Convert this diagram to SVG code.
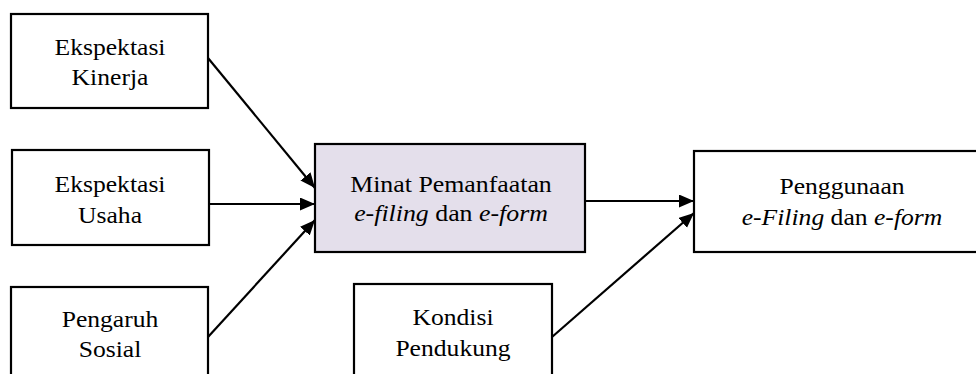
<svg xmlns="http://www.w3.org/2000/svg" width="976" height="374" viewBox="0 0 976 374">
<style>
.box{fill:#ffffff;stroke:#000000;stroke-width:2.2}
.hl{fill:#e4dfeb}
.c{fill:none;stroke:#000000;stroke-width:2.2}
</style>
<defs>
<marker id="ah" markerUnits="userSpaceOnUse" markerWidth="16" markerHeight="14" refX="15" refY="6.5" orient="auto">
<path d="M0,0 L15,6.5 L0,13 Z" fill="#000000"/>
</marker>
</defs>
<rect x="0" y="0" width="976" height="374" fill="#ffffff"/>
<g id="connectors">
<line class="c" x1="208" y1="58" x2="315" y2="188" marker-end="url(#ah)"/>
<line class="c" x1="209" y1="204" x2="315" y2="204" marker-end="url(#ah)"/>
<line class="c" x1="208" y1="337" x2="315" y2="220" marker-end="url(#ah)"/>
<line class="c" x1="585" y1="201" x2="694" y2="201" marker-end="url(#ah)"/>
<line class="c" x1="552" y1="337" x2="694" y2="213" marker-end="url(#ah)"/>
</g>
<g font-family="Liberation Serif, serif" font-size="23.5" fill="#000000" text-anchor="middle">
<g id="ekspektasi-kinerja">
<rect class="box" x="11" y="14" width="197" height="94"/>
<g transform="translate(110 0) scale(1.09 1)">
<text x="0" y="55">Ekspektasi</text>
<text x="0" y="85">Kinerja</text>
</g>
</g>
<g id="ekspektasi-usaha">
<rect class="box" x="12" y="150" width="197" height="95"/>
<g transform="translate(110 0) scale(1.09 1)">
<text x="0" y="192">Ekspektasi</text>
<text x="0" y="223">Usaha</text>
</g>
</g>
<g id="pengaruh-sosial">
<rect class="box" x="11" y="287" width="197" height="110"/>
<g transform="translate(110 0) scale(1.09 1)">
<text x="0" y="327">Pengaruh</text>
<text x="0" y="357">Sosial</text>
</g>
</g>
<g id="minat">
<rect class="box hl" x="315" y="144" width="270" height="108"/>
<g transform="translate(451 0) scale(1.1 1)">
<text x="0" y="192">Minat Pemanfaatan</text>
<text x="0" y="221"><tspan font-style="italic">e-filing</tspan> dan <tspan font-style="italic">e-form</tspan></text>
</g>
</g>
<g id="kondisi-pendukung">
<rect class="box" x="354" y="284" width="198" height="110"/>
<g transform="translate(453 0) scale(1.09 1)">
<text x="0" y="325">Kondisi</text>
<text x="0" y="356">Pendukung</text>
</g>
</g>
<g id="penggunaan">
<rect class="box" x="694" y="151" width="300" height="101"/>
<g transform="translate(842 0) scale(1.09 1)">
<text x="0" y="194">Penggunaan</text>
<text x="0" y="225"><tspan font-style="italic">e-Filing</tspan> dan <tspan font-style="italic">e-form</tspan></text>
</g>
</g>
</g>
</svg>
